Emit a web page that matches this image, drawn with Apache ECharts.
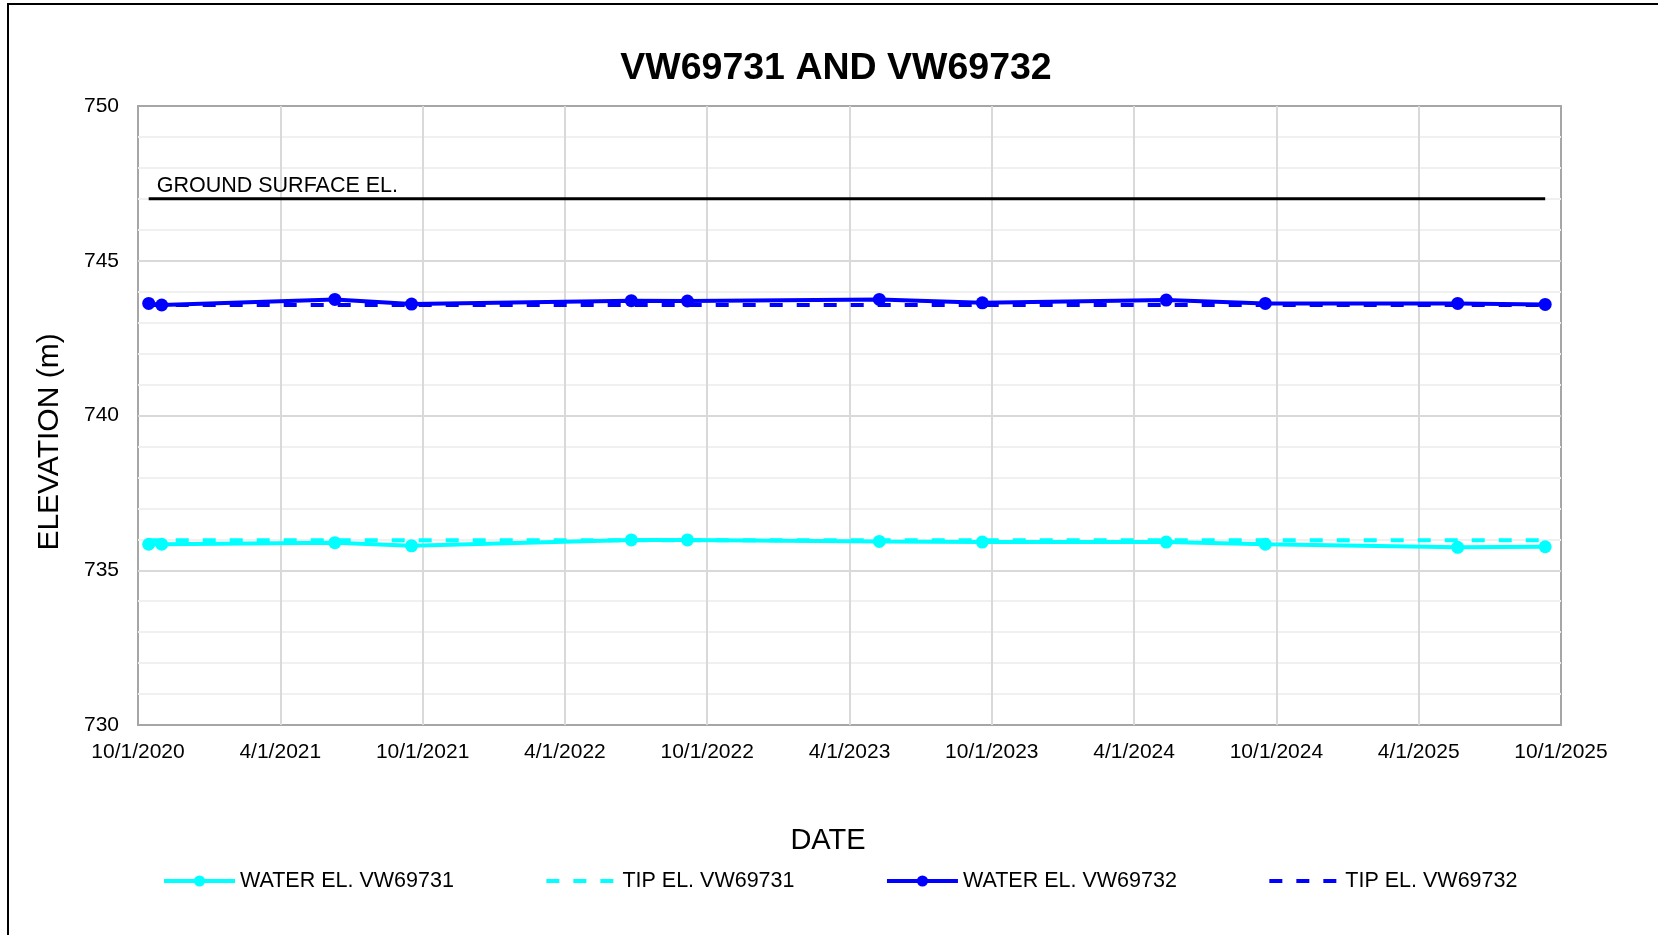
<!DOCTYPE html>
<html><head><meta charset="utf-8">
<script src="https://cdn.jsdelivr.net/npm/echarts@6/dist/echarts.min.js"></script>
<style>html,body{margin:0;padding:0;background:#fff}#c{width:1658px;height:935px}</style>
</head><body><div id="c"></div>
<script>
// ---- data ----
const sampleDates = ['2020-10-15','2020-11-01','2021-06-10','2021-09-17','2022-06-25','2022-09-06',
                     '2023-05-09','2023-09-19','2024-05-12','2024-09-17','2025-05-21','2025-09-11'];
const water69731 = [735.84,735.84,735.89,735.79,735.98,735.98,735.93,735.91,735.91,735.84,735.74,735.76];
const water69732 = [743.62,743.57,743.75,743.60,743.71,743.70,743.75,743.64,743.73,743.62,743.62,743.59];
const tip69731 = 735.97;
const tip69732 = 743.57;
const groundSurfaceEl = 747.0;
const xTickLabels = ['10/1/2020','4/1/2021','10/1/2021','4/1/2022','10/1/2022','4/1/2023',
                     '10/1/2023','4/1/2024','10/1/2024','4/1/2025','10/1/2025'];
const seriesNames = ['WATER EL. VW69731','TIP EL. VW69731','WATER EL. VW69732','TIP EL. VW69732'];

// months since 10/1/2020
function toMonths(s){
  const [y,m,d] = s.split('-').map(Number);
  const dim = new Date(y, m, 0).getDate();
  return (y-2020)*12 + (m-10) + (d-1)/dim;
}
const xs = sampleDates.map(toMonths);
const xFirst = xs[0], xLast = xs[xs.length-1];

const FONT = 'Liberation Sans, Arial, sans-serif';
const CYAN = '#00FFFF', BLUE = '#0000FF';

const chart = echarts.init(document.getElementById('c'), null, {renderer:'canvas'});
const option = {
  animation: false,
  backgroundColor: '#fff',
  textStyle: {fontFamily: FONT},
  title: {
    text: 'VW69731 AND VW69732',
    left: 831, top: 45, textAlign: 'center',
    textStyle: {fontFamily: FONT, fontSize: 37.5, fontWeight: 'bold', color: '#000'}
  },
  grid: {
    left: 138, right: 97, top: 106, bottom: 210,
    show: true, borderColor: '#a6a6a6', borderWidth: 2, backgroundColor: 'transparent'
  },
  legend: {
    data: [
      {name: seriesNames[0]},
      {name: seriesNames[1], itemStyle: {opacity: 0}},
      {name: seriesNames[2]},
      {name: seriesNames[3], itemStyle: {opacity: 0}}
    ],
    left: 162, top: 870,
    itemWidth: 71, itemHeight: 14, itemGap: 90.5, padding: 0,
    lineStyle: {width: 4},
    textStyle: {fontFamily: FONT, fontSize: 21.5, color: '#000'}
  },
  xAxis: {
    type: 'value', min: 0, max: 60, interval: 6,
    name: 'DATE', nameLocation: 'middle', nameGap: 101,
    nameTextStyle: {fontFamily: FONT, fontSize: 29, color: '#000', padding: [0, 43, 0, 0]},
    axisLine: {show: false}, axisTick: {show: false},
    axisLabel: {
      fontFamily: FONT, fontSize: 21, color: '#000', margin: 17,
      showMinLabel: true, showMaxLabel: true,
      formatter: v => xTickLabels[Math.round(v/6)] || ''
    },
    splitLine: {show: true, showMinLine: false, showMaxLine: false, lineStyle: {color: '#d9d9d9', width: 2}}
  },
  yAxis: {
    type: 'value', min: 730, max: 750, interval: 5,
    name: 'ELEVATION (m)', nameLocation: 'middle', nameGap: 73,
    nameTextStyle: {fontFamily: FONT, fontSize: 30, color: '#000', padding: [0, 53, 0, 0]},
    axisLine: {show: false}, axisTick: {show: false},
    minorTick: {show: false, splitNumber: 5},
    axisLabel: {fontFamily: FONT, fontSize: 21, color: '#000', margin: 19},
    splitLine: {show: true, showMinLine: false, showMaxLine: false, lineStyle: {color: '#d9d9d9', width: 2}},
    minorSplitLine: {show: true, lineStyle: {color: '#f0f0f0', width: 2}}
  },
  series: [
    {
      name: seriesNames[0], type: 'line', data: xs.map((x,i)=>[x, water69731[i]]),
      color: CYAN, symbol: 'circle', symbolSize: 13,
      lineStyle: {color: CYAN, width: 4}, itemStyle: {color: CYAN}
    },
    {
      name: seriesNames[1], type: 'line', data: [[xFirst, tip69731],[xLast, tip69731]],
      color: CYAN, symbol: 'none',
      lineStyle: {color: CYAN, width: 4, type: [13, 14]}, itemStyle: {color: CYAN}
    },
    {
      name: seriesNames[2], type: 'line', data: xs.map((x,i)=>[x, water69732[i]]),
      color: BLUE, symbol: 'circle', symbolSize: 13,
      lineStyle: {color: BLUE, width: 4}, itemStyle: {color: BLUE}
    },
    {
      name: seriesNames[3], type: 'line', data: [[xFirst, tip69732],[xLast, tip69732]],
      color: BLUE, symbol: 'none',
      lineStyle: {color: BLUE, width: 4, type: [13, 14]}, itemStyle: {color: BLUE}
    },
    {
      name: 'GROUND SURFACE EL.', type: 'line', data: [[xFirst, groundSurfaceEl],[xLast, groundSurfaceEl]],
      color: '#000', symbol: 'none', lineStyle: {color: '#000', width: 3}
    }
  ]
};
chart.setOption(option);

const gp = chart.convertToPixel({gridIndex: 0}, [xFirst, groundSurfaceEl]);
chart.setOption({
  graphic: [
    {type: 'rect', shape: {x: 8, y: 4, width: 1700, height: 1000},
     style: {fill: 'none', stroke: '#000', lineWidth: 2}, silent: true, z: 100},
    {type: 'text', x: gp[0] + 8, y: gp[1] - 13,
     style: {text: 'GROUND SURFACE EL.', fill: '#000', font: '21.5px ' + FONT,
             textAlign: 'left', textVerticalAlign: 'middle'}, z: 100}
  ]
});
</script>
</body></html>
